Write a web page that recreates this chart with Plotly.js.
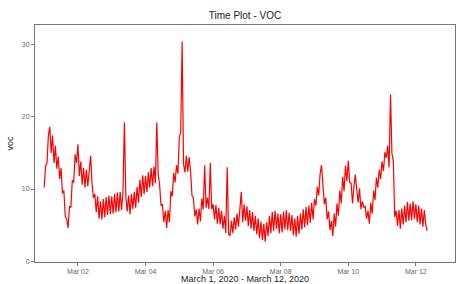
<!DOCTYPE html>
<html>
<head>
<meta charset="utf-8">
<script src="https://cdn.plot.ly/plotly-3.0.1.min.js"></script>
<style>html,body{margin:0;padding:0;background:#fff;}#chart{width:459px;height:284px;}</style>
</head>
<body>
<div id="chart"></div>
<script>
// Hourly VOC readings starting 2020-03-01 00:00
const startTime = "2020-03-01T00:00:00";
const vocValues = [
  10.2, 13.2, 13.6, 17.4, 18.6, 15, 17.4, 13.6, 16, 12.8, 14.5, 11.4,
  12.9, 9.4, 9.8, 6.2, 5.9, 4.6, 7.6, 7.5, 11.2, 10.9, 14.8, 13.6,
  16.2, 11.8, 13.8, 10.6, 12.9, 10.2, 12.7, 10.4, 12.5, 14.6, 10.8, 8.8,
  9.3, 6.8, 9, 5.9, 8.3, 5.8, 8.6, 6.1, 8.9, 6.4, 9.1, 6.5,
  9, 6.6, 9.3, 6.8, 9.5, 6.9, 9.6, 7.1, 9.7, 19.2, 9, 6.9,
  9.1, 6.5, 9.3, 7.2, 9.6, 7.4, 10.3, 8.1, 11.3, 8.9, 11.9, 9.3,
  11.8, 9.6, 12.3, 10.2, 12.9, 10.4, 13.1, 10.8, 19.2, 12, 10.6, 7.7,
  7.9, 5.4, 7, 4.6, 7.1, 5.4, 9.7, 9, 12.2, 10.9, 13.3, 12.1,
  17.2, 17.9, 30.4, 13.5, 12.3, 14.6, 12.4, 14.4, 12.5, 9.1, 8.8, 6.2,
  7.2, 5.1, 7.3, 5.5, 8.7, 7.2, 13.3, 7.4, 8.8, 7.2, 13.6, 7.2,
  7.9, 5.8, 7.8, 5.2, 7.4, 5.1, 7, 4.5, 6.3, 3.9, 13, 3.8,
  3.5, 5.6, 3.9, 6.1, 4.4, 6.6, 4.8, 6.8, 9.6, 5.4, 7.9, 5.6,
  7.6, 4.9, 7.1, 4.5, 6.8, 4.2, 6.3, 3.7, 5.9, 3.2, 5.5, 2.9,
  5.2, 2.7, 5.4, 3.5, 6.3, 3.9, 6.8, 4.2, 7, 4.5, 6.6, 3.9,
  6.5, 4, 6.9, 4.4, 7.1, 4.3, 6.7, 4.2, 6.4, 3.6, 5.9, 3.4,
  6.3, 3.8, 6.6, 4.4, 7.2, 4.7, 7.5, 5, 7.7, 5.3, 8.1, 5.8,
  8.6, 7.7, 10.3, 9.1, 12.1, 13.3, 11, 7.9, 8.8, 5.8, 6.9, 4.3,
  5.6, 3.5, 6.6, 4.8, 8, 6.3, 9.8, 8, 11.7, 9.7, 13.2, 11.1,
  13.9, 10.9, 10.8, 8, 10.3, 12, 10, 8.1, 10.1, 7.2, 8.3, 7.5,
  7.6, 5.9, 7, 5.2, 8.1, 6.6, 9.8, 8.5, 11.6, 10.2, 12.7, 11.4,
  13.8, 12.5, 15.1, 14.3, 16, 13, 23.1, 14.9, 13.9, 6.1, 7, 4.9,
  7.1, 4.5, 7.3, 5.1, 7.7, 5.4, 8.2, 5.6, 8, 5.7, 8.3, 5.9,
  7.9, 5.4, 7.7, 5.1, 7.3, 4.8, 7.1, 5.1, 4.2
];
const yTickVals = [0, 10, 20, 30];
const xTickVals = ["2020-03-02", "2020-03-04", "2020-03-06", "2020-03-08", "2020-03-10", "2020-03-12"];
const xTickText = ["Mar 02", "Mar 04", "Mar 06", "Mar 08", "Mar 10", "Mar 12"];

const t0 = new Date(startTime + "Z").getTime();
function fmt(ms){ return new Date(ms).toISOString().slice(0,19).replace("T"," "); }
const times = vocValues.map((_, i) => fmt(t0 + i * 3600000));

const font = "Liberation Sans, Arial, sans-serif";
const trace = {
  x: times, y: vocValues, type: "scatter", mode: "lines",
  line: {color: "#ff0000", width: 1.2}, hoverinfo: "skip"
};
const layout = {
  width: 459, height: 284,
  margin: {l: 35, r: 4, t: 25, b: 22},
  paper_bgcolor: "#ffffff", plot_bgcolor: "#ffffff",
  showlegend: false,
  font: {family: font, size: 7, color: "#555"},
  title: {text: "Time Plot - VOC", x: 0.5, xref: "paper", y: 0.945, yanchor: "middle",
          font: {family: font, size: 10, color: "#222"}},
  xaxis: {
    type: "date",
    range: [fmt(t0 - 6.5 * 3600000), fmt(t0 + 291.8 * 3600000)],
    tickvals: xTickVals, ticktext: xTickText,
    showgrid: false, zeroline: false,
    showline: true, mirror: true, linecolor: "#777", linewidth: 1,
    ticks: "outside", ticklen: 3, tickcolor: "#777", tickwidth: 1,
    tickfont: {family: font, size: 7, color: "#666"},
    title: {text: "March 1, 2020 - March 12, 2020", standoff: 2,
            font: {family: font, size: 9, color: "#222"}}
  },
  yaxis: {
    range: [-0.1, 32.7],
    tickvals: yTickVals,
    showgrid: false, zeroline: false,
    showline: true, mirror: true, linecolor: "#777", linewidth: 1,
    ticks: "outside", ticklen: 3, tickcolor: "#777", tickwidth: 1,
    tickfont: {family: font, size: 7, color: "#666"},
    title: {text: "voc", standoff: 6, font: {family: font, size: 9, color: "#222"}}
  }
};
Plotly.newPlot("chart", [trace], layout, {staticPlot: true, displayModeBar: false});
</script>
</body>
</html>
